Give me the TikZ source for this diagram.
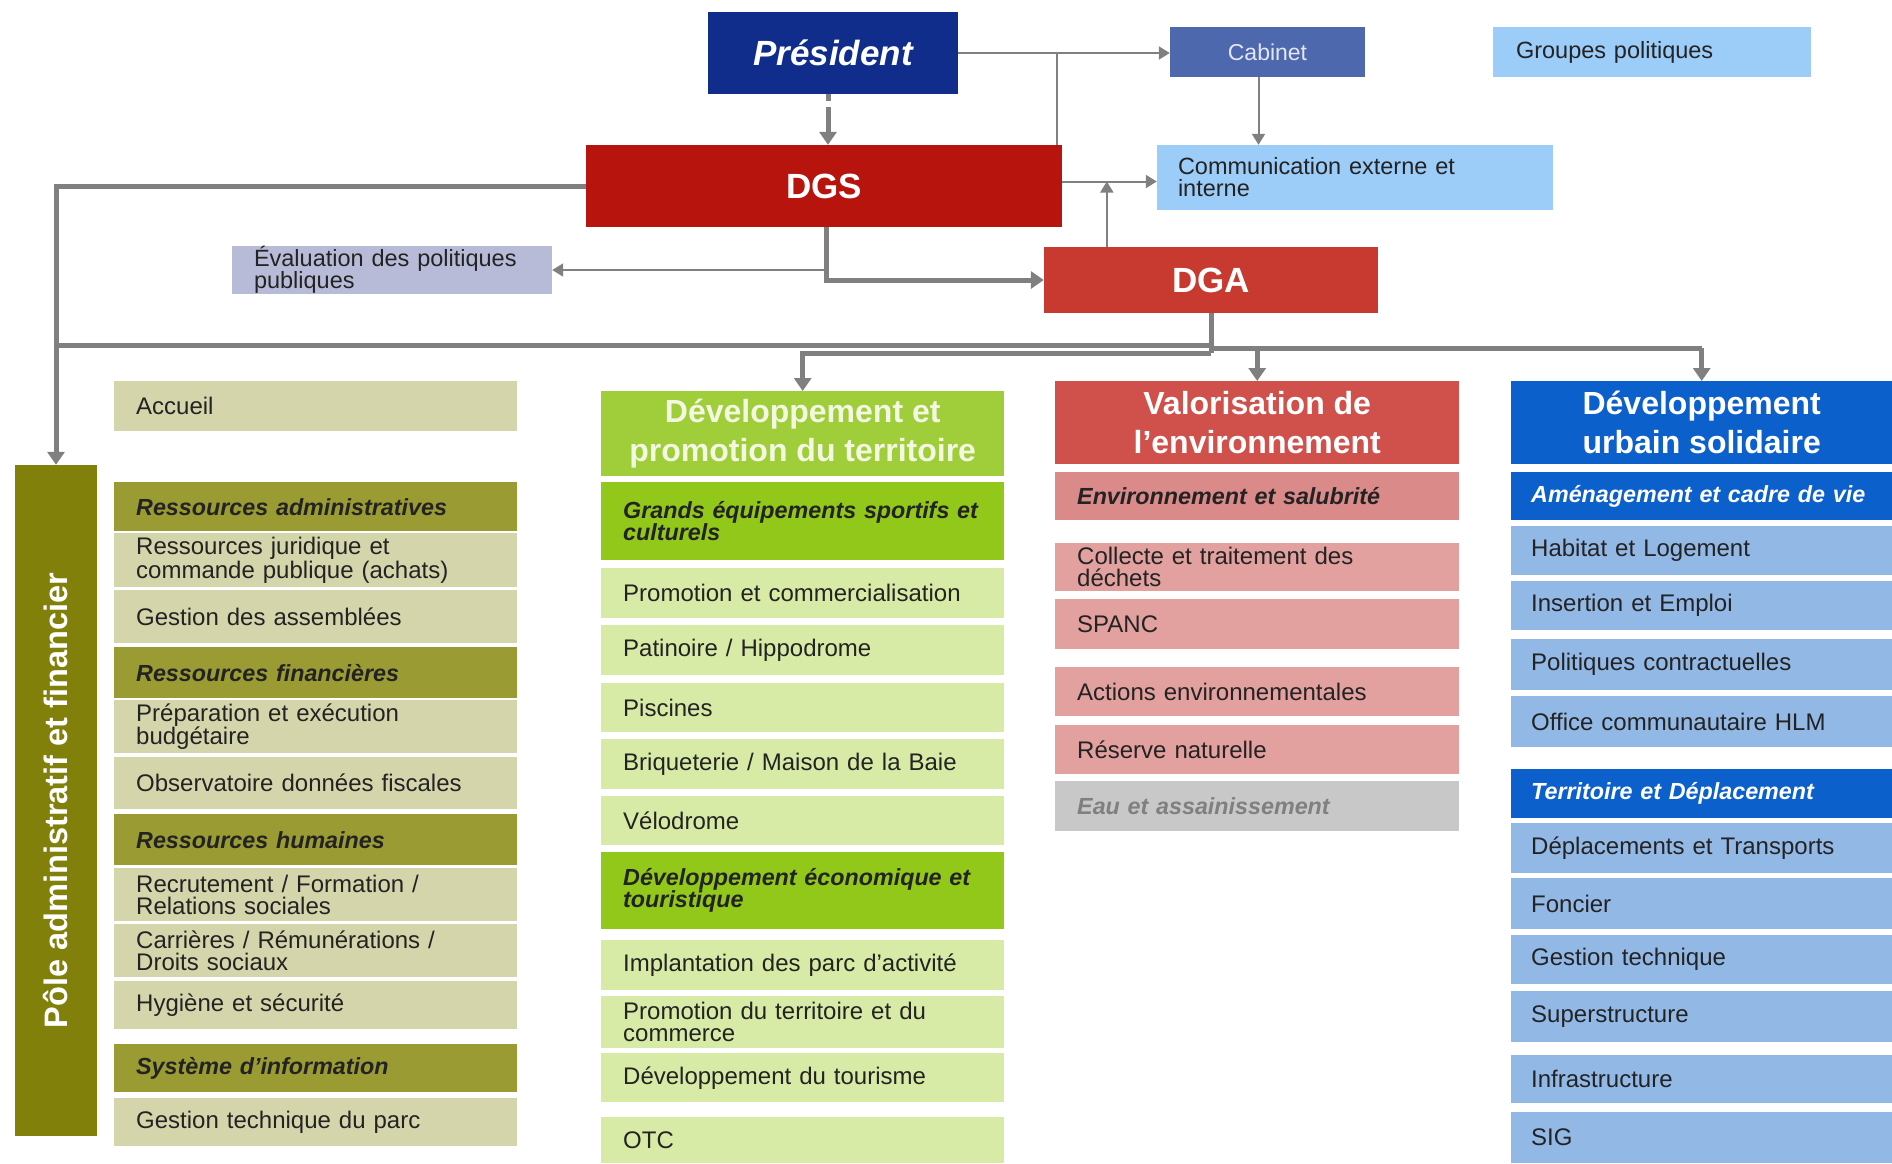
\documentclass[tikz,border=0pt]{standalone}
\usepackage{fontspec}
\setmainfont{Liberation Sans}
\usetikzlibrary{arrows.meta, positioning}

\definecolor{presblue}{RGB}{17,45,140}
\definecolor{cabblue}{RGB}{78,104,174}
\definecolor{cabtext}{RGB}{226,230,245}
\definecolor{paleblue}{RGB}{156,204,248}
\definecolor{dgsred}{RGB}{182,20,12}
\definecolor{dgared}{RGB}{200,58,48}
\definecolor{evalgray}{RGB}{184,187,216}
\definecolor{linegray}{RGB}{128,128,128}
\definecolor{olivebar}{RGB}{128,128,10}
\definecolor{olivehead}{RGB}{155,155,52}
\definecolor{olivecell}{RGB}{213,213,172}
\definecolor{greenhead}{RGB}{160,206,58}
\definecolor{greentext}{RGB}{244,248,226}
\definecolor{greensub}{RGB}{146,200,26}
\definecolor{greencell}{RGB}{216,235,166}
\definecolor{redhead}{RGB}{208,80,76}
\definecolor{redsub}{RGB}{218,138,136}
\definecolor{redcell}{RGB}{226,160,158}
\definecolor{watergray}{RGB}{200,200,200}
\definecolor{bluehead}{RGB}{12,96,204}
\definecolor{bluecell}{RGB}{146,184,230}
\definecolor{ink}{RGB}{35,35,35}

\begin{document}
\begin{tikzpicture}[x=1pt, y=-1pt,
    >={Triangle[length=11pt,width=13pt]},
    link/.style={draw=linegray, line width=2pt},
    bus/.style={draw=linegray, line width=5pt, >={Triangle[length=13pt,width=17pt]}},
    topbox/.style={inner sep=0pt, align=center},
    cell/.style={anchor=north west, inner xsep=22pt, inner ysep=0pt, align=left,
      text width=359pt, text=ink, font=\fontsize{24}{22}\selectfont},
    subhead/.style={cell, font=\fontsize{23.3}{22}\selectfont\bfseries\itshape},
    colhead/.style={anchor=north west, inner sep=0pt, align=center, text=white,
      font=\fontsize{32}{39}\selectfont\bfseries}]

  \fill[white] (0,0) rectangle (1892,1163);
  \useasboundingbox (0,0) rectangle (1892,1163);

  % direction
  \node[topbox, fill=presblue, minimum width=250pt, minimum height=82pt, text=white,
    font=\fontsize{35}{40}\selectfont\bfseries\itshape] (pres) at (833,53) {Président};
  \node[topbox, fill=cabblue, minimum width=195pt, minimum height=50pt, text=cabtext,
    font=\fontsize{23}{22}\selectfont] (cab) at (1267.5,52) {Cabinet};
  \node[topbox, fill=paleblue, text width=272pt, inner xsep=23pt, minimum height=50pt,
    align=left, text=ink, font=\fontsize{23.5}{22}\selectfont] (grp) at (1652,52) {Groupes politiques};
  \node[topbox, fill=dgsred, minimum width=476pt, minimum height=82pt, text=white,
    font=\fontsize{35}{40}\selectfont\bfseries] (dgs) at (824,186) {DGS};
  \node[topbox, fill=paleblue, text width=354pt, inner xsep=21pt, minimum height=65pt,
    align=left, text=ink, font=\fontsize{23.5}{22}\selectfont] (comm) at (1355,177.5) {Communication externe et\\ interne};
  \node[topbox, fill=evalgray, text width=276pt, inner xsep=22pt, minimum height=48pt,
    align=left, text=ink, font=\fontsize{23.5}{22}\selectfont] (eval) at (392,270) {Évaluation des politiques\\ publiques};
  \node[topbox, fill=dgared, minimum width=334pt, minimum height=66pt, text=white,
    font=\fontsize{35}{40}\selectfont\bfseries] (dga) at (1211,280) {DGA};

  % pole administratif et financier
  \node[rotate=90, fill=olivebar, minimum width=671pt, minimum height=82pt, inner sep=0pt,
    text=white, font=\fontsize{32.5}{38}\selectfont\bfseries] (pole) at (56,800.5) {Pôle administratif et financier};
  \foreach \nm/\yt/\yb/\txt in {ph1/482/531/Ressources administratives, ph2/647/698/Ressources financières,
      ph3/814/865/Ressources humaines, ph4/1044/1092/Système d’information}
    \node[subhead, fill=olivehead, minimum height={(\yb-\yt)*1pt}] (\nm) at (114,\yt) {\txt};
  \foreach \nm/\yt/\yb/\txt in {pa0/381/431/Accueil,
      pa1/533/587/{Ressources juridique et\\ commande publique (achats)},
      pa2/590/643/Gestion des assemblées,
      pa3/700/753/{Préparation et exécution\\ budgétaire},
      pa4/757/809/Observatoire données fiscales,
      pa5/868/921/{Recrutement / Formation /\\ Relations sociales},
      pa6/924/977/{Carrières / Rémunérations /\\ Droits sociaux},
      pa7/981/1029/Hygiène et sécurité,
      pa8/1098/1146/Gestion technique du parc}
    \node[cell, fill=olivecell, minimum height={(\yb-\yt)*1pt}] (\nm) at (114,\yt) {\txt};

  % developpement et promotion du territoire
  \node[colhead, fill=greenhead, text=greentext, minimum width=403pt, minimum height=85pt]
    (dpt) at (601,391) {Développement et\\ promotion du territoire};
  \foreach \nm/\yt/\yb/\txt in {gh1/482/560/{Grands équipements sportifs et\\ culturels},
      gh2/852/929/{Développement économique et\\ touristique}}
    \node[subhead, fill=greensub, minimum height={(\yb-\yt)*1pt}] (\nm) at (601,\yt) {\txt};
  \foreach \nm/\yt/\yb/\txt in {gi1/568/618/Promotion et commercialisation,
      gi2/625/675/{Patinoire / Hippodrome},
      gi3/683/732/Piscines,
      gi4/739/789/{Briqueterie / Maison de la Baie},
      gi5/796/845/Vélodrome,
      gi6/940/990/Implantation des parc d’activité,
      gi7/996/1048/{Promotion du territoire et du\\ commerce},
      gi8/1053/1102/Développement du tourisme,
      gi9/1117/1163/OTC}
    \node[cell, fill=greencell, minimum height={(\yb-\yt)*1pt}] (\nm) at (601,\yt) {\txt};

  % valorisation de l'environnement
  \node[colhead, fill=redhead, minimum width=404pt, minimum height=83pt]
    (val) at (1055,381) {Valorisation de\\ l’environnement};
  \node[subhead, fill=redsub, text width=360pt, minimum height=48pt] (rh1) at (1055,472) {Environnement et salubrité};
  \foreach \nm/\yt/\yb/\txt in {ri1/543/591/{Collecte et traitement des\\ déchets},
      ri2/599/649/SPANC,
      ri3/667/716/Actions environnementales,
      ri4/725/774/Réserve naturelle}
    \node[cell, fill=redcell, text width=360pt, minimum height={(\yb-\yt)*1pt}] (\nm) at (1055,\yt) {\txt};
  \node[subhead, fill=watergray, text=linegray, text width=360pt, minimum height=50pt] (re1) at (1055,781) {Eau et assainissement};

  % developpement urbain solidaire
  \node[colhead, fill=bluehead, minimum width=381pt, minimum height=83pt]
    (dus) at (1511,381) {Développement\\ urbain solidaire};
  \foreach \nm/\yt/\yb/\txt in {bh1/472/520/Aménagement et cadre de vie,
      bh2/769/818/Territoire et Déplacement}
    \node[subhead, fill=bluehead, text=white, inner xsep=20pt, text width=341pt,
      minimum height={(\yb-\yt)*1pt}] (\nm) at (1511,\yt) {\txt};
  \foreach \nm/\yt/\yb/\txt in {bi1/526/575/Habitat et Logement,
      bi2/581/630/Insertion et Emploi,
      bi3/639/690/Politiques contractuelles,
      bi4/696/747/Office communautaire HLM,
      bi5/823/873/Déplacements et Transports,
      bi6/878/929/Foncier,
      bi7/935/984/Gestion technique,
      bi8/991/1042/Superstructure,
      bi9/1055/1103/Infrastructure,
      bi10/1112/1163/SIG}
    \node[cell, fill=bluecell, inner xsep=20pt, text width=341pt,
      minimum height={(\yb-\yt)*1pt}] (\nm) at (1511,\yt) {\txt};

  % liens de direction
  \draw[link, ->] (pres.east) -- (pres.east -| cab.west);
  \draw[link] ([xshift=-5pt]dgs.north east) -- ([xshift=-5pt]dgs.north east |- pres.east);
  \draw[bus, ->, dash pattern=on 7pt off 6pt on 40pt]
    ([xshift=-5pt]pres.south) -- ([xshift=-5pt]pres.south |- dgs.north);
  \coordinate (commin) at ([yshift=-4pt]comm.west);
  \draw[link, ->] (dgs.east |- commin) -- (commin);
  \draw[link, ->] ([xshift=-9pt]cab.south) -- ([xshift=-9pt]cab.south |- comm.north);
  \draw[link, ->] ([xshift=63pt]dga.north west) -- ([xshift=63pt]dga.north west |- commin);
  \draw[link, ->] ([xshift=2pt]dgs.south |- eval.east) -- (eval.east);
  \draw[bus, ->] ([xshift=2pt]dgs.south) -- ([xshift=2pt]dgs.south |- dga.west) -- (dga.west);
  \draw[bus, ->] (dgs.west) -- (dgs.west -| pole.east) -- (pole.east);

  % repartition DGA vers les poles
  \coordinate (busA) at ([yshift=-32pt]dga.south);
  \coordinate (busB) at ([yshift=-35pt]dga.south);
  \coordinate (busC) at ([yshift=-40pt]dga.south);
  \draw[bus] (dga.south) -- (busC);
  \draw[bus] (busA) -- (busA -| pole.east);
  \draw[bus, ->] (busC) -- (busC -| dpt.north) -- (dpt.north);
  \draw[bus] (busB) -- (busB -| dus.north);
  \draw[bus, ->] (busB -| val.north) -- (val.north);
  \draw[bus, ->] (busB -| dus.north) -- (dus.north);
\end{tikzpicture}
\end{document}
